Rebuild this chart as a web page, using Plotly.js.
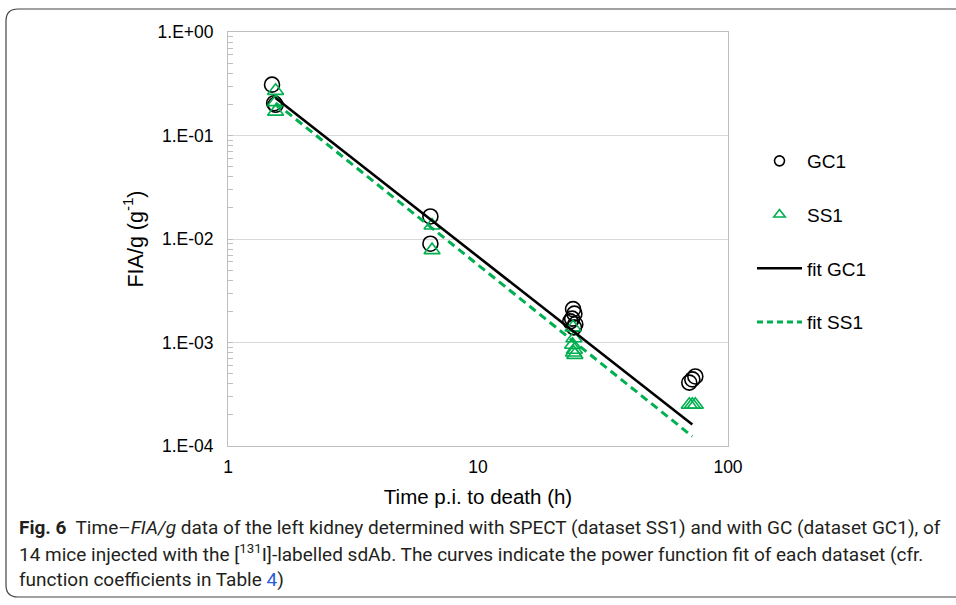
<!DOCTYPE html>
<html>
<head>
<meta charset="utf-8">
<script src="https://cdn.plot.ly/plotly-3.0.1.min.js"></script>
<style>
  html, body { margin: 0; padding: 0; background: #ffffff; }
  #chart { width: 956px; height: 605px; }
</style>
</head>
<body>
<div id="chart"></div>
<script>
// ---- data ----
const gc1Time  = [1.50, 1.53, 1.55, 6.45, 6.45, 23.4, 24.0, 24.3, 23.8, 24.5, 24.2, 70.0, 72.0, 74.0];
const gc1Value = [0.31, 0.205, 0.198, 0.0165, 0.0090, 0.0016, 0.0021, 0.0019, 0.0017, 0.0015, 0.0014, 0.00041, 0.00044, 0.00047];
const ss1Time  = [1.55, 1.55, 1.55, 6.55, 6.55, 24.0, 24.2, 23.9, 24.3, 24.1, 24.4, 70.0, 72.0, 74.0];
const ss1Value = [0.27, 0.21, 0.17, 0.0135, 0.0078, 0.0014, 0.0011, 0.00095, 0.00085, 0.00080, 0.00076, 0.00025, 0.00025, 0.00025];
const fitTime     = [1.55, 72];
const fitGC1Value = [0.23, 0.000161];
const fitSS1Value = [0.206, 0.000124];
const yTickVals = [1, 0.1, 0.01, 0.001, 0.0001];
const yTickText = ['1.E+00', '1.E-01', '1.E-02', '1.E-03', '1.E-04'];
const xTickVals = [1, 10, 100];
const xTickText = ['1', '10', '100'];
const seriesNames = ['GC1', 'SS1', 'fit GC1', 'fit SS1'];

const GREEN = '#00B050';
const FONT = 'Liberation Sans, Arial, sans-serif';
const CAPFONT = 'Roboto, sans-serif';

const traces = [
  { x: gc1Time, y: gc1Value, type: 'scatter', mode: 'markers', name: seriesNames[0], showlegend: false,
    marker: { symbol: 'circle-open', size: 15, color: '#000', line: { width: 1.6, color: '#000' } } },
  { x: ss1Time, y: ss1Value, type: 'scatter', mode: 'markers', name: seriesNames[1], showlegend: false,
    marker: { symbol: 'triangle-up-open', size: 14, color: GREEN, line: { width: 1.6, color: GREEN } } },
  { x: fitTime, y: fitGC1Value, type: 'scatter', mode: 'lines', name: seriesNames[2], showlegend: false,
    line: { color: '#000', width: 2.6 } },
  { x: fitTime, y: fitSS1Value, type: 'scatter', mode: 'lines', name: seriesNames[3], showlegend: false,
    line: { color: GREEN, width: 3, dash: '8px,5px' } },
  // legend entries
  { x: [null], y: [null], type: 'scatter', mode: 'markers', name: seriesNames[0], legendgroup: 'a',
    marker: { symbol: 'circle-open', size: 10, color: '#000', line: { width: 1.6, color: '#000' } } },
  { x: [null], y: [null], type: 'scatter', mode: 'markers', name: seriesNames[1], legendgroup: 'b',
    marker: { symbol: 'triangle-up-open', size: 10, color: GREEN, line: { width: 1.6, color: GREEN } } },
  { x: [null], y: [null], type: 'scatter', mode: 'lines', name: seriesNames[2], legendgroup: 'c',
    line: { color: '#000', width: 2.6 } },
  { x: [null], y: [null], type: 'scatter', mode: 'lines', name: seriesNames[3], legendgroup: 'd',
    line: { color: GREEN, width: 3, dash: '6px,4px' } }
];

// paper coordinate helpers (plot area: x 228..728, y 32..446 px)
const px = p => (p - 228) / 500;
const py = p => (446 - p) / 414;

const L = px(6), R = px(975), T = py(9), B = py(597);
const rx = 12 / 500, ry = 12 / 414;
const borderPath = `M${R},${T} L${L + rx},${T} Q${L},${T} ${L},${T - ry} L${L},${B + ry} Q${L},${B} ${L + rx},${B} L${R},${B}`;

const layout = {
  width: 956, height: 605,
  margin: { l: 228, r: 228, t: 32, b: 159 },
  paper_bgcolor: '#fff', plot_bgcolor: '#fff',
  font: { family: FONT, color: '#000', size: 14 },
  showlegend: true,
  legend: {
    x: px(752), y: py(142), xanchor: 'left', yanchor: 'top',
    font: { family: FONT, size: 19, color: '#000' },
    traceorder: 'grouped', tracegroupgap: 26, itemwidth: 45,
    bgcolor: 'rgba(0,0,0,0)'
  },
  xaxis: {
    type: 'log', range: [0, 2], tickvals: xTickVals, ticktext: xTickText,
    showgrid: false, zeroline: false, showline: true, mirror: true,
    linecolor: '#bfbfbf', linewidth: 1, ticks: '',
    tickfont: { family: FONT, size: 17.5 }, ticklabelstandoff: 5,
    title: { text: 'Time p.i. to death (h)', font: { family: FONT, size: 20.5 }, standoff: 13 }
  },
  yaxis: {
    type: 'log', range: [-4, 0], tickvals: yTickVals, ticktext: yTickText,
    showgrid: true, gridcolor: '#d9d9d9', gridwidth: 1, zeroline: false,
    showline: true, mirror: true, linecolor: '#bfbfbf', linewidth: 1,
    ticks: 'inside', ticklen: 5, tickcolor: '#bfbfbf',
    minor: { ticks: 'inside', ticklen: 5, tickcolor: '#bfbfbf', dtick: 'D1', showgrid: false },
    tickfont: { family: FONT, size: 17.5 }, ticklabelstandoff: 10,
    title: { text: 'FIA/g (g<sup>-1</sup>)', font: { family: FONT, size: 21.5 }, standoff: 8 }
  },
  shapes: [
    { type: 'path', xref: 'paper', yref: 'paper', path: borderPath, line: { color: '#444', width: 1.2 }, layer: 'below' }
  ],
  annotations: [
    { xref: 'paper', yref: 'paper', x: px(17), y: py(527), xanchor: 'left', yanchor: 'middle', showarrow: false, align: 'left',
      font: { family: CAPFONT, size: 19, color: '#231f20' },
      text: '<b>Fig. 6</b>  Time–<i>FIA/g</i> data of the left kidney determined with SPECT (dataset SS1) and with GC (dataset GC1), of' },
    { xref: 'paper', yref: 'paper', x: px(17), y: py(553), xanchor: 'left', yanchor: 'middle', showarrow: false, align: 'left',
      font: { family: CAPFONT, size: 19, color: '#231f20' },
      text: '14 mice injected with the [<sup>131</sup>I]-labelled sdAb. The curves indicate the power function fit of each dataset (cfr.' },
    { xref: 'paper', yref: 'paper', x: px(17), y: py(579), xanchor: 'left', yanchor: 'middle', showarrow: false, align: 'left',
      font: { family: CAPFONT, size: 19, color: '#231f20' },
      text: 'function coefficients in Table <span style="color:#2a5bd7">4</span>)' }
  ]
};

Plotly.newPlot('chart', traces, layout, { staticPlot: true, displayModeBar: false });
</script>
</body>
</html>
